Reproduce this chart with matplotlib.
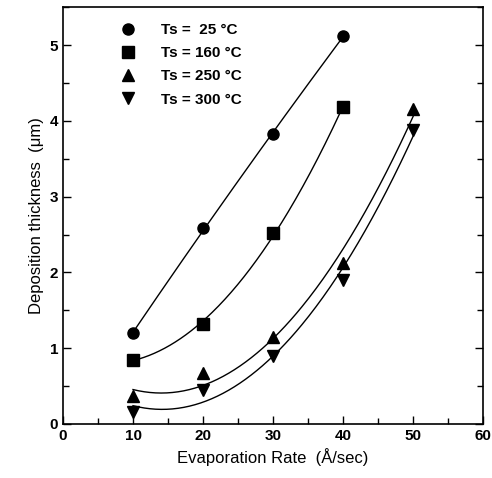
import numpy as np
import matplotlib
matplotlib.use("Agg")
import matplotlib.pyplot as plt
from matplotlib.ticker import MultipleLocator

plt.rcParams['font.family'] = ['Liberation Sans', 'DejaVu Sans']

rate_a = [10, 20, 30, 40]
rate_b = [10, 20, 30, 40, 50]
t25 = [1.20, 2.58, 3.82, 5.12]
t160 = [0.85, 1.32, 2.52, 4.18]
t250 = [0.37, 0.67, 1.15, 2.12, 4.15]
t300 = [0.16, 0.45, 0.90, 1.90, 3.88]
labels = ["Ts =  25 \u00b0C", "Ts = 160 \u00b0C", "Ts = 250 \u00b0C", "Ts = 300 \u00b0C"]

fig = plt.figure(figsize=(4.92, 4.78), dpi=100)
ax = fig.add_axes([0.128, 0.113, 0.854, 0.872])

series = [(rate_a, t25, 'o'), (rate_a, t160, 's'),
          (rate_b, t250, '^'), (rate_b, t300, 'v')]
for (x, y, m), lab in zip(series, labels):
    ax.plot(x, y, m, color='black', markersize=8, linestyle='none', label=lab)
    c = np.polyfit(x, y, 2)
    xs = np.linspace(min(x), max(x), 200)
    ax.plot(xs, np.polyval(c, xs), color='black', linewidth=1.0)

ax.set_xlim(0, 60)
ax.set_ylim(0, 5.5)
ax.xaxis.set_major_locator(MultipleLocator(10))
ax.xaxis.set_minor_locator(MultipleLocator(5))
ax.yaxis.set_major_locator(MultipleLocator(1))
ax.yaxis.set_minor_locator(MultipleLocator(0.5))
ax.tick_params(which='both', direction='in', top=False, right=True, width=1.0)
ax.tick_params(which='major', length=6, labelsize=11)
ax.tick_params(which='minor', length=4)
for lbl in ax.get_xticklabels() + ax.get_yticklabels():
    lbl.set_fontweight('bold')
for s in ax.spines.values():
    s.set_linewidth(1.2)

ax.set_xlabel("Evaporation Rate  (\u00c5/sec)", fontsize=12)
ax.set_ylabel("Deposition thickness  (\u03bcm)", fontsize=12)

leg = ax.legend(loc='upper left', bbox_to_anchor=(0.085, 0.995), frameon=False,
                prop={'weight': 'bold', 'size': 11}, handletextpad=1.2,
                labelspacing=0.6, numpoints=1)

fig.savefig("out.png", dpi=100)
